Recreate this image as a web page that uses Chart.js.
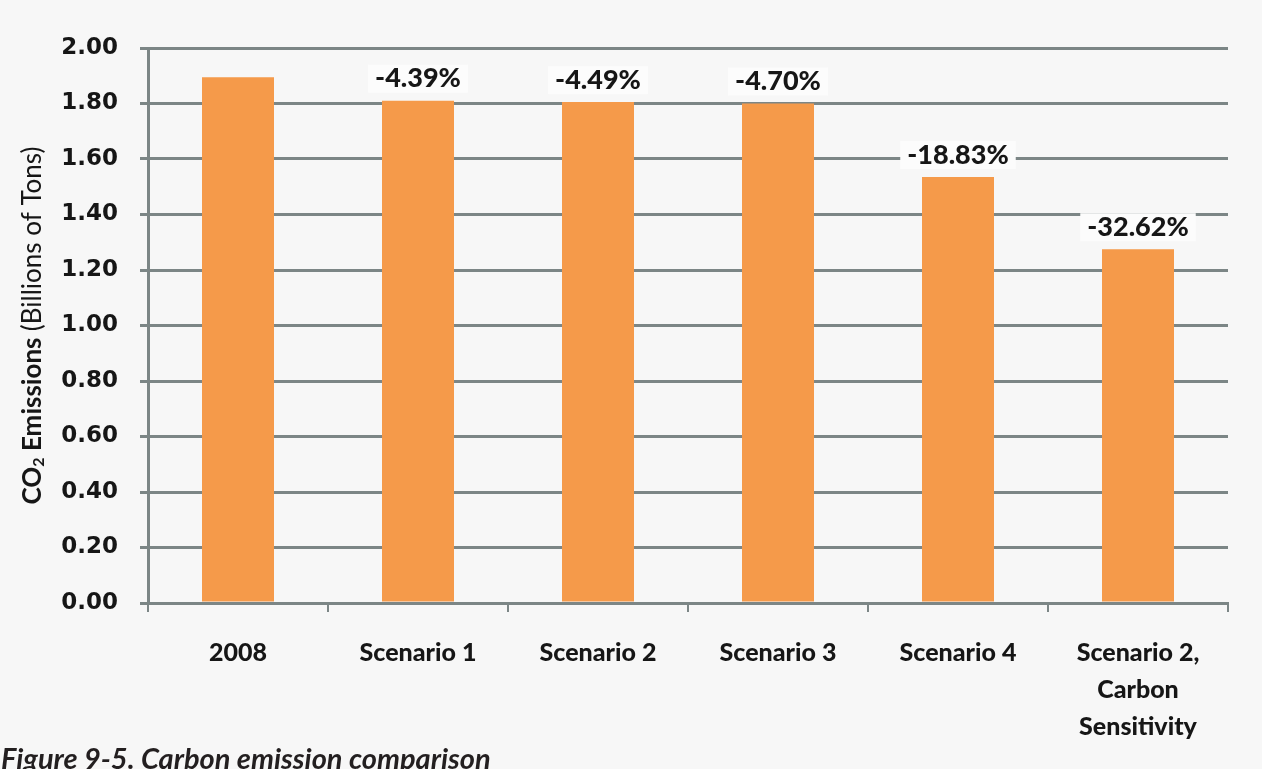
<!DOCTYPE html>
<html>
<head>
<meta charset="utf-8">
<title>Carbon emission comparison</title>
<script src="https://cdn.jsdelivr.net/npm/chart.js@4.4.1/dist/chart.umd.min.js"></script>
<style>
  html, body { margin: 0; padding: 0; background: #f7f7f7; }
  #wrap { position: relative; width: 1262px; height: 769px; overflow: hidden; }
  #caption {
    position: absolute; left: 1px; top: 740px;
    font: italic bold 29px Lato, sans-serif; color: #231f20; white-space: nowrap;
  }
</style>
</head>
<body>
<div id="wrap">
  <canvas id="emissions" width="1262" height="769"></canvas>
  <div id="caption">Figure 9-5. Carbon emission comparison</div>
</div>
<script>
const categories = ['2008', 'Scenario 1', 'Scenario 2', 'Scenario 3', 'Scenario 4', ['Scenario 2,', 'Carbon', 'Sensitivity']];
const emissions = [1.895, 1.81, 1.805, 1.80, 1.535, 1.275];
const changeLabels = ['', '-4.39%', '-4.49%', '-4.70%', '-18.83%', '-32.62%'];

const gridColor = '#7c8686';
const barColor = '#f59a4a';

// percentage change printed over each bar on a white patch
const changeLabelPlugin = {
  id: 'changeLabels',
  afterDatasetsDraw(chart) {
    const ctx = chart.ctx;
    const bars = chart.getDatasetMeta(0).data;
    ctx.save();
    ctx.font = '900 27px Lato, sans-serif';
    ctx.textAlign = 'center';
    ctx.textBaseline = 'middle';
    bars.forEach((bar, i) => {
      const text = changeLabels[i];
      if (!text) return;
      const w = ctx.measureText(text).width;
      const y = bar.y - 22;
      ctx.fillStyle = '#fcfcfc';
      ctx.fillRect(bar.x - w / 2 - 7, y - 14, w + 14, 28);
      ctx.fillStyle = '#161616';
      ctx.fillText(text, bar.x, y);
    });
    ctx.restore();
  }
};

// rotated y axis title with subscript and mixed weights
const yTitlePlugin = {
  id: 'yTitle',
  afterDraw(chart) {
    const ctx = chart.ctx;
    const parts = [
      { t: 'CO', font: 'bold 26px Lato, sans-serif', dy: 0 },
      { t: '2', font: 'bold 16px Lato, sans-serif', dy: 6 },
      { t: ' Emissions ', font: 'bold 26px Lato, sans-serif', dy: 0 },
      { t: '(Billions of Tons)', font: '26px Lato, sans-serif', dy: 0 }
    ];
    ctx.save();
    let total = 0;
    parts.forEach(p => { ctx.font = p.font; p.w = ctx.measureText(p.t).width; total += p.w; });
    const area = chart.chartArea;
    ctx.translate(33, (area.top + area.bottom) / 2);
    ctx.rotate(-Math.PI / 2);
    ctx.fillStyle = '#161616';
    ctx.textBaseline = 'middle';
    let x = -total / 2;
    parts.forEach(p => {
      ctx.font = p.font;
      ctx.fillText(p.t, x, p.dy);
      x += p.w;
    });
    ctx.restore();
  }
};

new Chart(document.getElementById('emissions').getContext('2d'), {
  type: 'bar',
  data: {
    labels: categories,
    datasets: [{
      data: emissions,
      backgroundColor: barColor,
      borderWidth: 0,
      barPercentage: 0.4,
      categoryPercentage: 1
    }]
  },
  options: {
    responsive: false,
    animation: false,
    layout: { padding: { left: 0, top: 48, right: 34, bottom: 0 } },
    plugins: {
      legend: { display: false },
      tooltip: { enabled: false }
    },
    scales: {
      x: {
        z: 1,
        offset: true,
        grid: { drawOnChartArea: false, drawTicks: true, tickLength: 9, color: gridColor, lineWidth: 2 },
        border: { display: true, color: gridColor, width: 3 },
        ticks: {
          color: '#161616',
          padding: 22,
          maxRotation: 0,
          autoSkip: false,
          font: { family: 'Lato, sans-serif', size: 25, weight: '900', lineHeight: 1.48 }
        },
        afterFit(scale) {
          scale.height = 166;
          scale.paddingLeft = 0;
          scale.paddingRight = 0;
        }
      },
      y: {
        min: 0,
        max: 2,
        grid: { color: gridColor, lineWidth: 3, drawTicks: true, tickLength: 8 },
        border: { display: true, color: gridColor, width: 3 },
        ticks: {
          stepSize: 0.2,
          color: '#161616',
          padding: 22,
          font: { family: 'DejaVu Sans, sans-serif', size: 23, weight: 'bold' },
          callback: v => v.toFixed(2)
        },
        afterFit(scale) {
          scale.width = 148;
          scale.paddingTop = 0;
          scale.paddingBottom = 0;
        }
      }
    }
  },
  plugins: [changeLabelPlugin, yTitlePlugin]
});
</script>
</body>
</html>
